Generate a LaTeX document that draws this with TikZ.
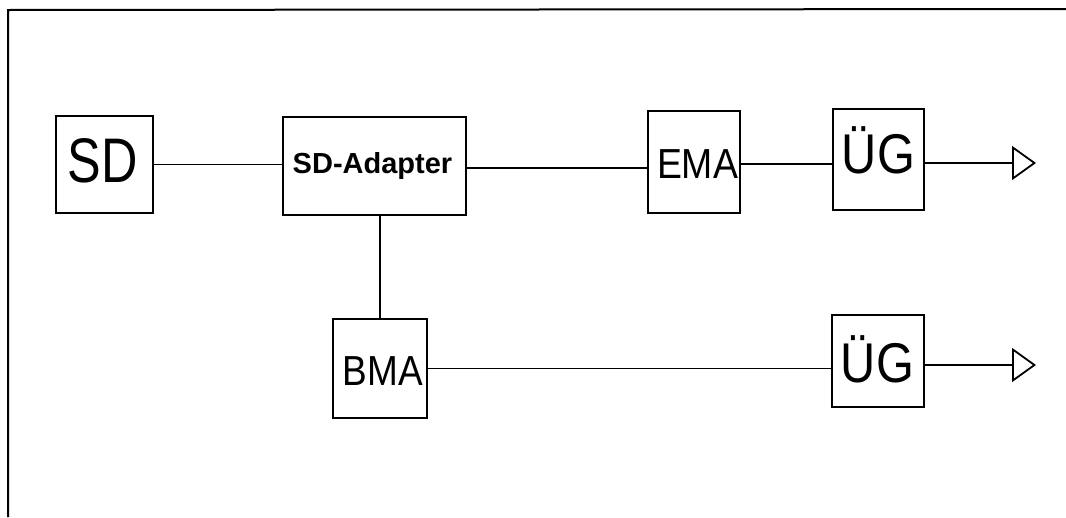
\documentclass[tikz,border=0pt]{standalone}
\usepackage{fontspec}
\setmainfont{Liberation Sans}
\usepackage{graphicx}
\usetikzlibrary{arrows.meta}
\tikzset{
  blk/.style={draw, line width=1.9pt, inner sep=0pt, minimum width=#1},
  lbl/.style={anchor=base, inner sep=0pt},
  conn/.style={line width=1.8pt},
  outarrow/.style={line width=1.8pt, -{Triangle[open, length=24pt, width=34pt, line width=1.8pt]}},
  frame/.style={line width=2pt}
}
\begin{document}
\begin{tikzpicture}[x=1pt,y=-1pt]
\useasboundingbox (0,0) rectangle (1066,517);
% frame
\coordinate (fl) at (8,517);
\coordinate (fc) at (8,10);
\coordinate (fr) at (1066,9);
\draw[frame] (fl) -- (fc) -- (fr);
% boxes
\node[blk=97pt, minimum height=97pt] (SD) at (104.5,164.5) {};
\node[blk=183pt, minimum height=98pt] (SDA) at (374.5,166) {};
\node[blk=92pt, minimum height=102pt] (EMA) at (694,162) {};
\node[blk=91pt, minimum height=101pt] (UG1) at (878.5,159.5) {};
\node[blk=94pt, minimum height=99pt] (BMA) at (380,368.5) {};
\node[blk=92pt, minimum height=92pt] (UG2) at (878,361) {};
% labels
\node[lbl, font=\fontsize{63}{63}\selectfont] (tSD) at (103,182) {\scalebox{0.8}[1]{SD}};
\node[lbl, font=\fontsize{29}{29}\selectfont\bfseries] (tSDA) at (372.5,173) {SD-Adapter};
\node[lbl, font=\fontsize{42}{42}\selectfont] (tEMA) at (697.5,178) {\scalebox{0.89}[1]{EMA}};
\node[lbl, font=\fontsize{56}{56}\selectfont] (tUG1) at (878.5,173) {\scalebox{0.87}[1]{ÜG}};
\node[lbl, font=\fontsize{42}{42}\selectfont] (tBMA) at (383,385) {\scalebox{0.88}[1]{BMA}};
\node[lbl, font=\fontsize{56}{56}\selectfont] (tUG2) at (877.5,382) {\scalebox{0.87}[1]{ÜG}};
% connectors
\draw[conn] (SD.east) -- (SD.east -| SDA.west);
\draw[conn] ([yshift=-2pt]SDA.east) -- ([yshift=-2pt]SDA.east -| EMA.west);
\draw[conn] ([yshift=-2pt]EMA.east) -- ([yshift=-2pt]EMA.east -| UG1.west);
\draw[conn] (BMA.north |- SDA.south) -- (BMA.north);
\draw[conn] (BMA.east) -- (BMA.east -| UG2.west);
\coordinate (o1) at (1036,156);
\coordinate (o2) at (1036,365);
\draw[outarrow] ([yshift=-3.5pt]UG1.east) -- ([yshift=-3.5pt]UG1.east -| o1);
\draw[outarrow] (UG2.east |- o2) -- (o2);
\end{tikzpicture}
\end{document}
